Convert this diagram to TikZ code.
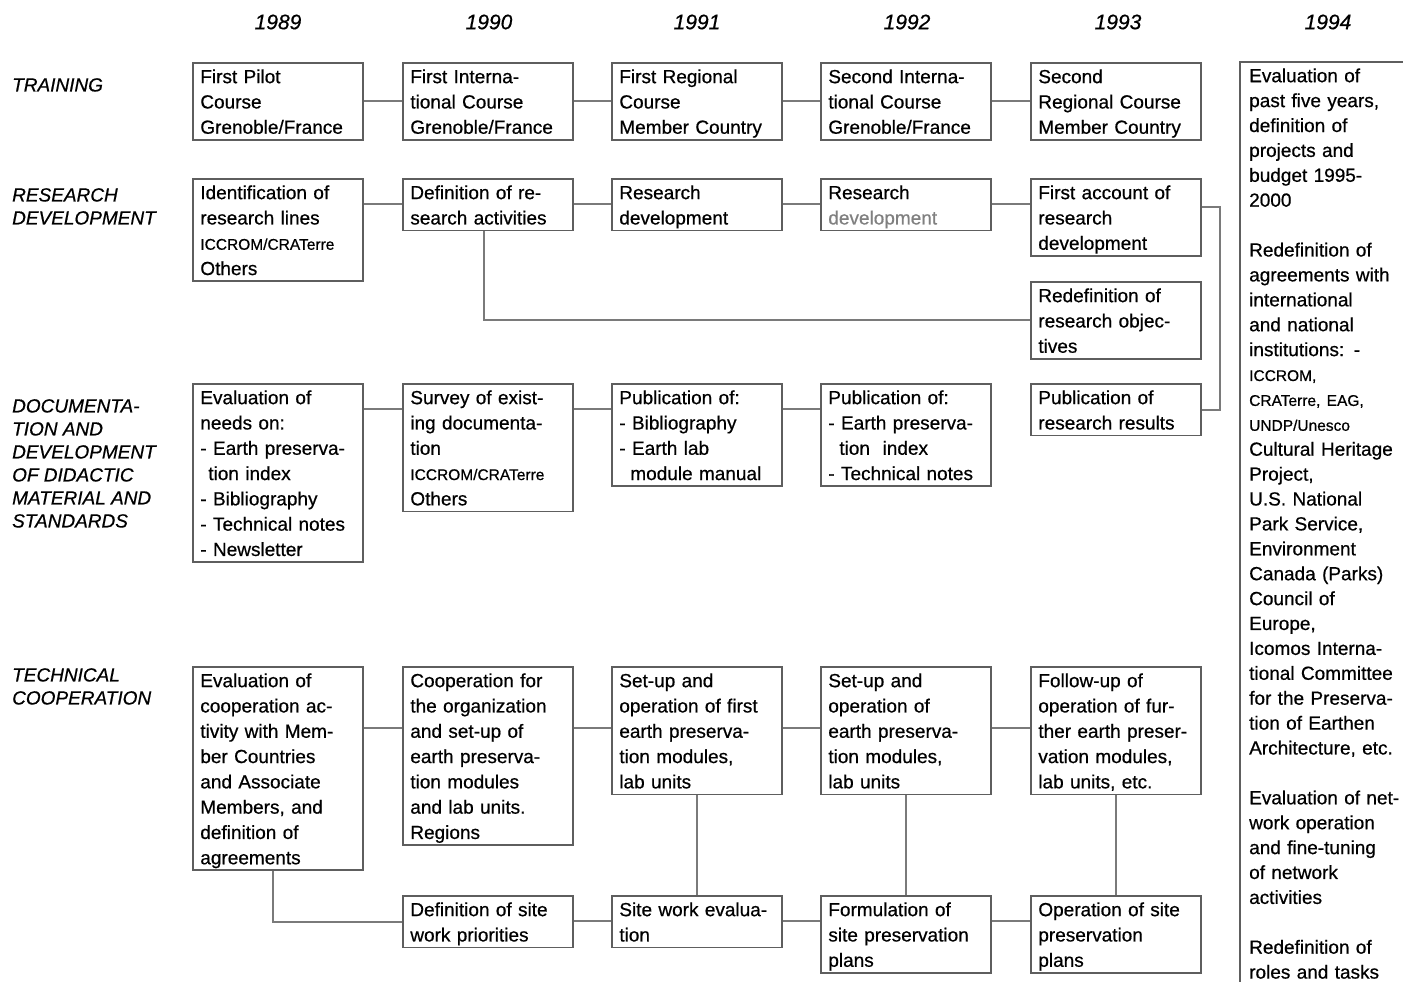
\documentclass[tikz,border=0pt]{standalone}
\usepackage{fontspec}
\setmainfont{Liberation Sans}[FakeBold=0.6]
\usetikzlibrary{calc}
\definecolor{boxline}{HTML}{5E5E5E}
\definecolor{conline}{HTML}{7A7A7A}
\definecolor{fadetext}{HTML}{808080}
\newcommand\bs{\rule[-5.5pt]{0pt}{25.3pt}}
\newcommand\sm{\fontsize{15.5}{25.3}\selectfont}
\begin{document}
\begin{tikzpicture}[x=1pt,y=-1pt,
  box/.style={draw=boxline, line width=1.7pt, anchor=north west, inner xsep=7.5pt, inner ysep=0.5pt,
    text width=155pt, align=left, font=\fontsize{19}{25.3}\selectfont,
    execute at begin node=\bs, execute at end node=\bs},
  link/.style={draw=conline, line width=1.7pt},
  year/.style={font=\fontsize{21}{25}\selectfont\itshape, inner sep=0pt},
  rowlab/.style={anchor=north west, inner sep=0pt, align=left, font=\fontsize{19}{23}\selectfont\itshape}]
\useasboundingbox (0,0) rectangle (1403,982);

% years
\node[year] (y89) at (278,22) {1989};
\node[year] (y90) at (489,22) {1990};
\node[year] (y91) at (697,22) {1991};
\node[year] (y92) at (907,22) {1992};
\node[year] (y93) at (1118,22) {1993};
\node[year] (y94l) at (1328,22) {1994};

% row labels
\node[rowlab] (lab1) at (12,78) {TRAINING};
\node[rowlab] (lab2) at (12,188) {RESEARCH\\DEVELOPMENT};
\node[rowlab] (lab3) at (12,399) {DOCUMENTA-\\TION AND\\DEVELOPMENT\\OF DIDACTIC\\MATERIAL AND\\STANDARDS};
\node[rowlab] (lab4) at (12,668) {TECHNICAL\\COOPERATION};

% training
\node[box] (tr1) at (192,62) {First Pilot\\Course\\Grenoble/France};
\node[box] (tr2) at (402,62) {First Interna-\\tional Course\\Grenoble/France};
\node[box] (tr3) at (611,62) {First Regional\\Course\\Member Country};
\node[box] (tr4) at (820,62) {Second Interna-\\tional Course\\Grenoble/France};
\node[box] (tr5) at (1030,62) {Second\\Regional Course\\Member Country};

% research
\node[box] (rs1) at (192,178) {Identification of\\research lines\\{\sm ICCROM/CRATerre}\\Others};
\node[box] (rs2) at (402,178) {Definition of re-\\search activities};
\node[box] (rs3) at (611,178) {Research\\development};
\node[box] (rs4) at (820,178) {Research\\{\color{fadetext}development}};
\node[box] (rs5) at (1030,178) {First account of\\research\\development};
\node[box] (rd) at (1030,281) {Redefinition of\\research objec-\\tives};

% documentation
\node[box] (dc1) at (192,383) {Evaluation of\\needs on:\\- Earth preserva-\\\hspace*{8pt}tion index\\- Bibliography\\- Technical notes\\- Newsletter};
\node[box] (dc2) at (402,383) {Survey of exist-\\ing documenta-\\tion\\{\sm ICCROM/CRATerre}\\Others};
\node[box] (dc3) at (611,383) {Publication of:\\- Bibliography\\- Earth lab\\\hspace*{11pt}module manual};
\node[box] (dc4) at (820,383) {Publication of:\\- Earth preserva-\\\hspace*{11pt}tion\ \ index\\- Technical notes};
\node[box] (dc5) at (1030,383) {Publication of\\research results};

% technical cooperation
\node[box] (tc1) at (192,666) {Evaluation of\\cooperation ac-\\tivity with Mem-\\ber Countries\\and Associate\\Members, and\\definition of\\agreements};
\node[box] (tc2) at (402,666) {Cooperation for\\the organization\\and set-up of\\earth preserva-\\tion modules\\and lab units.\\Regions};
\node[box] (tc3) at (611,666) {Set-up and\\operation of first\\earth preserva-\\tion modules,\\lab units};
\node[box] (tc4) at (820,666) {Set-up and\\operation of\\earth preserva-\\tion modules,\\lab units};
\node[box] (tc5) at (1030,666) {Follow-up of\\operation of fur-\\ther earth preser-\\vation modules,\\lab units, etc.};

\node[box] (bt2) at (402,895) {Definition of site\\work priorities};
\node[box] (bt3) at (611,895) {Site work evalua-\\tion};
\node[box] (bt4) at (820,895) {Formulation of\\site preservation\\plans};
\node[box] (bt5) at (1030,895) {Operation of site\\preservation\\plans};

% 1994 column
\node[anchor=north west, inner xsep=9pt, inner ysep=0pt, text width=160pt, align=left,
  font=\fontsize{19}{24.9}\selectfont] (c94) at (1240,62)
 {\rule{0pt}{20pt}Evaluation of\\past five years,\\definition of\\projects and\\budget 1995-\\2000\\[24.9pt]
  Redefinition of\\agreements with\\international\\and national\\institutions: -\\{\sm ICCROM,}\\{\sm CRATerre, EAG,}\\{\sm UNDP/Unesco}\\
  Cultural Heritage\\Project,\\U.S. National\\Park Service,\\Environment\\Canada (Parks)\\Council of\\Europe,\\Icomos Interna-\\tional Committee\\for the Preserva-\\tion of Earthen\\Architecture, etc.\\[24.9pt]
  Evaluation of net-\\work operation\\and fine-tuning\\of network\\activities\\[24.9pt]
  Redefinition of\\roles and tasks};
\draw[draw=boxline, line width=1.7pt] (c94.north west |- 0,990) -- (c94.north west) -- (1410,62);

% connectors
\coordinate (ry) at (0,204);
\coordinate (dy) at (0,409);
\coordinate (ty) at (0,728);
\coordinate (by) at (0,921);
\coordinate (rb) at (1220,207);

\draw[link] (tr1.east) -- (tr2.west);
\draw[link] (tr2.east) -- (tr3.west);
\draw[link] (tr3.east) -- (tr4.west);
\draw[link] (tr4.east) -- (tr5.west);

\draw[link] (rs1.east |- ry) -- (rs2.west |- ry);
\draw[link] (rs2.east |- ry) -- (rs3.west |- ry);
\draw[link] (rs3.east |- ry) -- (rs4.west |- ry);
\draw[link] (rs4.east |- ry) -- (rs5.west |- ry);
\draw[link] ($(rs2.south)+(-4,0)$) |- (rd.west);
\draw[link] (rs5.east |- rb) -- (rb) |- (dc5.east);

\draw[link] (dc1.east |- dy) -- (dc2.west |- dy);
\draw[link] (dc2.east |- dy) -- (dc3.west |- dy);
\draw[link] (dc3.east |- dy) -- (dc4.west |- dy);

\draw[link] (tc1.east |- ty) -- (tc2.west |- ty);
\draw[link] (tc2.east |- ty) -- (tc3.west |- ty);
\draw[link] (tc3.east |- ty) -- (tc4.west |- ty);
\draw[link] (tc4.east |- ty) -- (tc5.west |- ty);
\draw[link] (tc3.south) -- (bt3.north);
\draw[link] (tc4.south) -- (bt4.north);
\draw[link] (tc5.south) -- (bt5.north);
\draw[link] ($(tc1.south)+(-5,0)$) |- (bt2.west);

\draw[link] (bt2.east |- by) -- (bt3.west |- by);
\draw[link] (bt3.east |- by) -- (bt4.west |- by);
\draw[link] (bt4.east |- by) -- (bt5.west |- by);
\end{tikzpicture}
\end{document}
